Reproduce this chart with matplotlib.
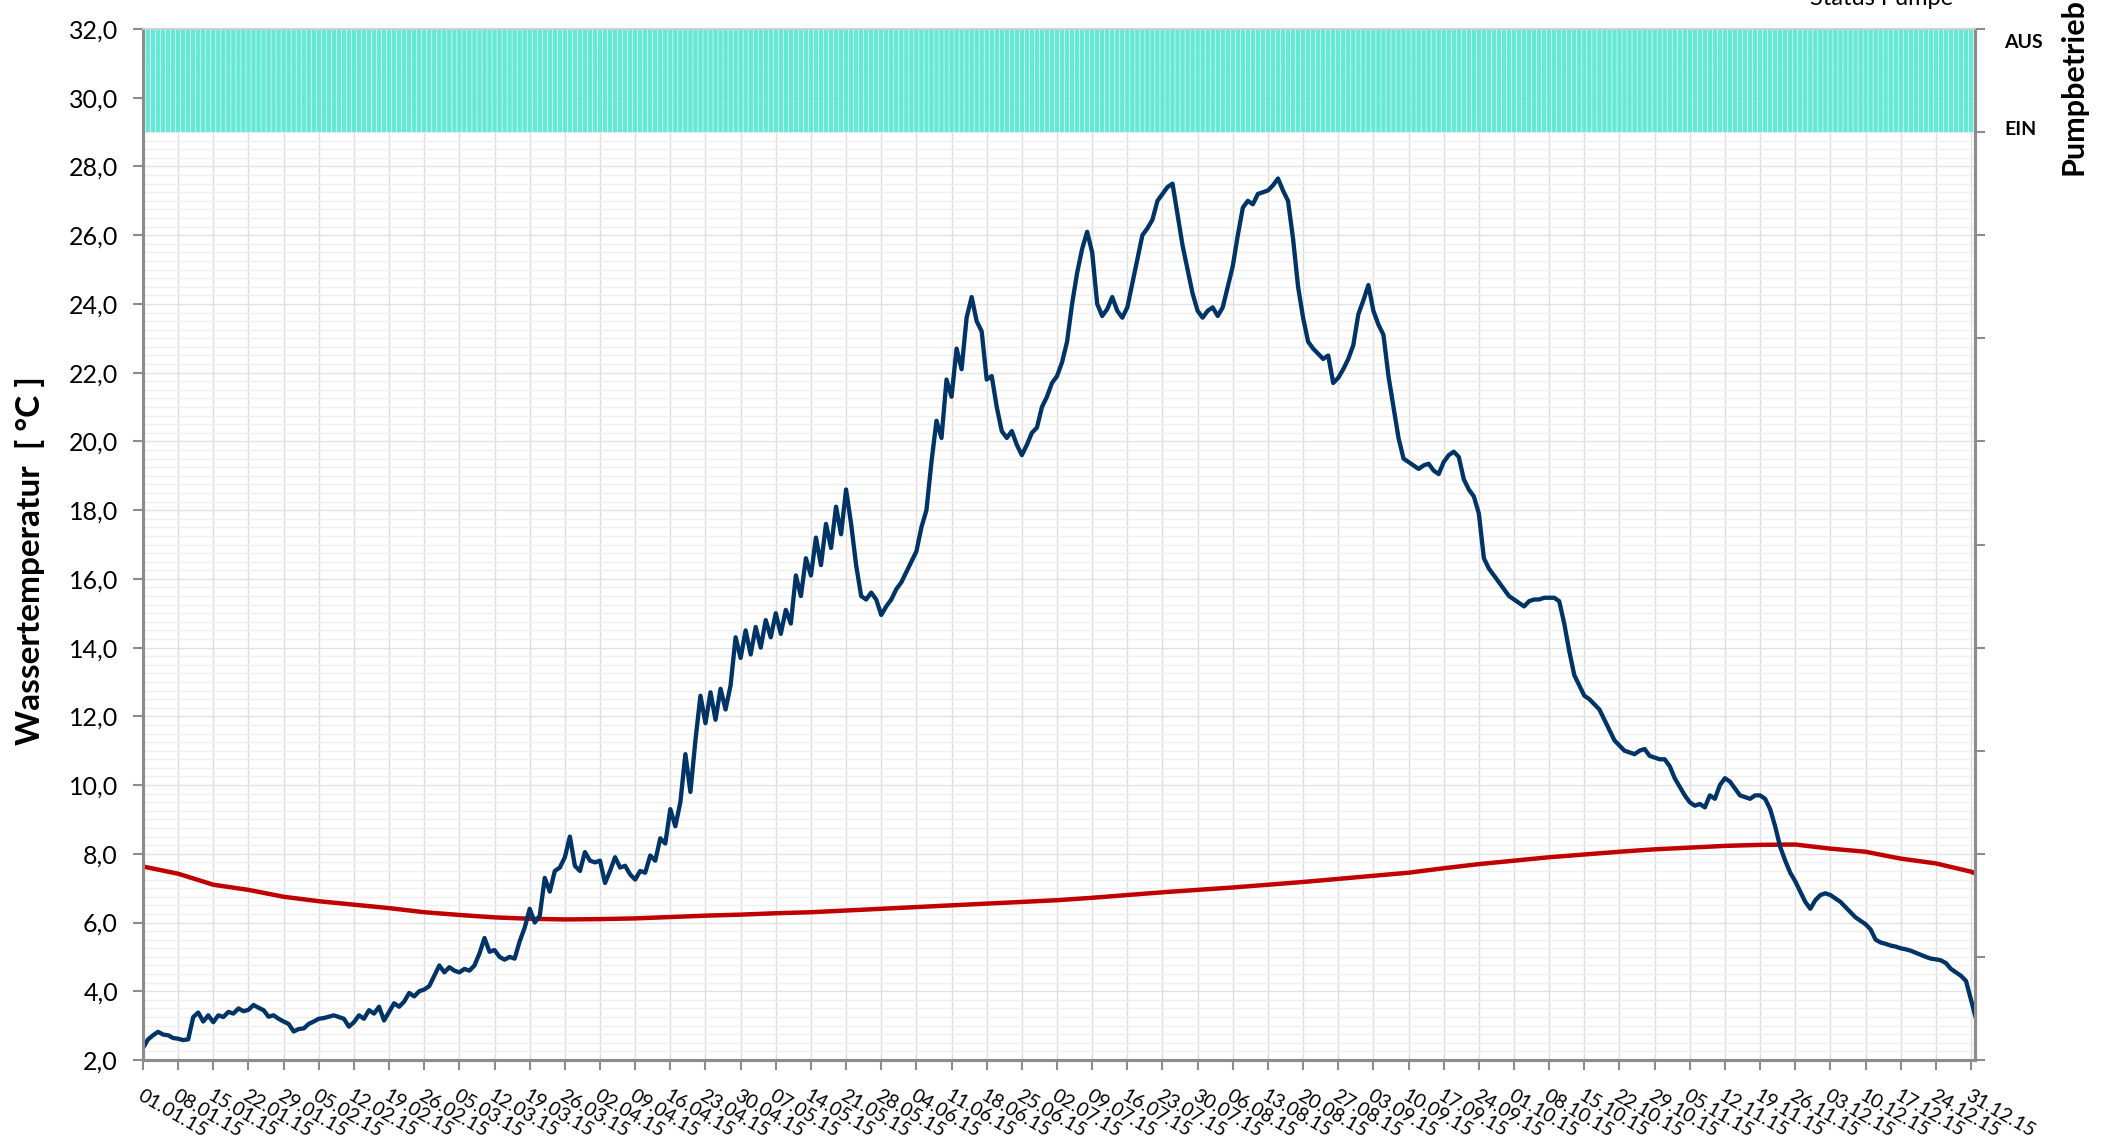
import matplotlib
matplotlib.use('Agg')
import matplotlib.pyplot as plt
import matplotlib.transforms as mtransforms
from matplotlib.ticker import MultipleLocator
import pandas as pd

plt.rcParams['font.family'] = ['Lato', 'DejaVu Sans']

# ---- data -------------------------------------------------------------
# daily water temperature (blue), 01.01.15 ... 01.01.16
blue_temp = [
    2.35, 2.6, 2.72, 2.82, 2.74, 2.72, 2.64,
    2.62, 2.58, 2.6, 3.25, 3.38, 3.12, 3.3,
    3.1, 3.3, 3.25, 3.4, 3.35, 3.5, 3.42,
    3.46, 3.6, 3.52, 3.45, 3.26, 3.3, 3.2,
    3.12, 3.05, 2.83, 2.9, 2.92, 3.05, 3.12,
    3.2, 3.22, 3.26, 3.3, 3.25, 3.2, 2.97,
    3.1, 3.3, 3.2, 3.45, 3.35, 3.55, 3.15,
    3.4, 3.65, 3.55, 3.7, 3.95, 3.85, 4.0,
    4.05, 4.15, 4.45, 4.75, 4.55, 4.7, 4.6,
    4.55, 4.65, 4.6, 4.75, 5.1, 5.55, 5.15,
    5.2, 5.0, 4.92, 5.0, 4.95, 5.45, 5.85,
    6.4, 6.0, 6.2, 7.3, 6.9, 7.5, 7.6,
    7.9, 8.5, 7.65, 7.5, 8.05, 7.8, 7.75,
    7.8, 7.15, 7.5, 7.9, 7.6, 7.65, 7.4,
    7.25, 7.5, 7.45, 7.95, 7.8, 8.45, 8.3,
    9.3, 8.8, 9.5, 10.9, 9.8, 11.3, 12.6,
    11.8, 12.7, 11.9, 12.8, 12.2, 12.9, 14.3,
    13.7, 14.5, 13.8, 14.6, 14.0, 14.8, 14.3,
    15.0, 14.4, 15.1, 14.7, 16.1, 15.5, 16.6,
    16.1, 17.2, 16.4, 17.6, 16.9, 18.1, 17.3,
    18.6, 17.6, 16.4, 15.5, 15.4, 15.6, 15.4,
    14.95, 15.2, 15.4, 15.7, 15.9, 16.2, 16.5,
    16.8, 17.5, 18.0, 19.4, 20.6, 20.1, 21.8,
    21.3, 22.7, 22.1, 23.6, 24.2, 23.5, 23.2,
    21.8, 21.9, 21.0, 20.3, 20.1, 20.3, 19.9,
    19.6, 19.9, 20.25, 20.4, 21.0, 21.3, 21.7,
    21.9, 22.3, 22.9, 24.0, 24.9, 25.6, 26.1,
    25.5, 24.0, 23.65, 23.85, 24.2, 23.8, 23.6,
    23.9, 24.6, 25.3, 26.0, 26.2, 26.45, 27.0,
    27.2, 27.4, 27.5, 26.6, 25.7, 25.0, 24.3,
    23.8, 23.6, 23.8, 23.9, 23.65, 23.9, 24.5,
    25.1, 26.0, 26.8, 27.0, 26.9, 27.2, 27.25,
    27.3, 27.45, 27.65, 27.3, 27.0, 25.9, 24.5,
    23.6, 22.9, 22.7, 22.55, 22.4, 22.5, 21.7,
    21.85, 22.1, 22.4, 22.8, 23.7, 24.1, 24.55,
    23.8, 23.4, 23.1, 21.9, 21.0, 20.1, 19.5,
    19.4, 19.3, 19.2, 19.3, 19.35, 19.15, 19.05,
    19.4, 19.6, 19.7, 19.55, 18.9, 18.6, 18.4,
    17.9, 16.6, 16.3, 16.1, 15.9, 15.7, 15.5,
    15.4, 15.3, 15.2, 15.35, 15.4, 15.4, 15.45,
    15.45, 15.45, 15.35, 14.7, 13.9, 13.2, 12.9,
    12.6, 12.5, 12.35, 12.2, 11.9, 11.6, 11.3,
    11.15, 11.0, 10.95, 10.9, 11.0, 11.05, 10.85,
    10.8, 10.75, 10.75, 10.55, 10.2, 9.95, 9.7,
    9.5, 9.4, 9.45, 9.35, 9.7, 9.6, 10.0,
    10.2, 10.1, 9.9, 9.7, 9.65, 9.6, 9.7,
    9.7, 9.6, 9.3, 8.8, 8.2, 7.8, 7.45,
    7.2, 6.9, 6.6, 6.4, 6.65, 6.8, 6.85,
    6.8, 6.7, 6.6, 6.45, 6.3, 6.15, 6.05,
    5.95, 5.8, 5.5, 5.42, 5.38, 5.33, 5.3,
    5.25, 5.22, 5.18, 5.12, 5.06, 5.0, 4.95,
    4.93, 4.9, 4.82, 4.65, 4.55, 4.45, 4.3,
    3.75, 3.2,
]

# weekly values of the red series, 01.01.15 ... 31.12.15, plus 01.01.16
red_temp = [
    7.63, 7.42, 7.1, 6.95, 6.75, 6.62, 6.52, 6.42, 6.3, 6.22,
    6.15, 6.11, 6.09, 6.1, 6.12, 6.16, 6.2, 6.23, 6.27, 6.3,
    6.35, 6.4, 6.45, 6.5, 6.55, 6.6, 6.65, 6.72, 6.8, 6.88,
    6.95, 7.02, 7.1, 7.18, 7.27, 7.36, 7.45, 7.58, 7.7, 7.8,
    7.9, 7.98, 8.06, 8.13, 8.18, 8.23, 8.26, 8.27, 8.15, 8.06,
    7.86, 7.72, 7.48, 7.42,
]

# pump status per day (1 = band from EIN to AUS)
status = [1] * 365

temp_ticks = [2, 4, 6, 8, 10, 12, 14, 16, 18, 20, 22, 24, 26, 28, 30, 32]
temp_labels = ['2,0', '4,0', '6,0', '8,0', '10,0', '12,0', '14,0', '16,0',
               '18,0', '20,0', '22,0', '24,0', '26,0', '28,0', '30,0', '32,0']
status_ticks = [-9, -8, -7, -6, -5, -4, -3, -2, -1, 0, 1]
status_labels = ['', '', '', '', '', '', '', '', '', 'EIN', 'AUS']

# ---- figure -----------------------------------------------------------
W, H = 2109, 1136
fig = plt.figure(figsize=(W / 100, H / 100), dpi=100)
ax = fig.add_axes([143 / W, 1 - 1060 / H, (1975 - 143) / W, (1060 - 29) / H])

blue_dates = pd.date_range('2015-01-01', periods=len(blue_temp), freq='D')
red_dates = list(pd.date_range('2015-01-01', periods=53, freq='7D')) + [pd.Timestamp('2016-01-01')]
status_dates = pd.date_range('2015-01-01', periods=len(status), freq='D')
tick_dates = pd.date_range('2015-01-01', '2015-12-31', freq='7D')
tick_labels = [d.strftime('%d.%m.%y') for d in tick_dates]

ax.plot(red_dates, red_temp, color='#C00000', lw=3.2, zorder=2, solid_joinstyle='round')
ax.plot(blue_dates, blue_temp, color='#003366', lw=3.1, zorder=3, solid_joinstyle='round')

ax.set_xlim(pd.Timestamp('2015-01-01'), pd.Timestamp('2015-12-31 19:00'))
ax.set_ylim(2, 32)
ax.set_yticks(temp_ticks)
ax.set_yticklabels(temp_labels)
ax.yaxis.set_minor_locator(MultipleLocator(0.25))
ax.set_xticks(tick_dates)
ax.set_xticklabels(tick_labels, rotation=-30, ha='left', va='top',
                   rotation_mode='anchor', fontsize=14)

ax.set_axisbelow(True)
ax.grid(True, axis='x', which='major', color='#dcdcdc', lw=1.0)
ax.grid(True, axis='y', which='major', color='#e2e2e2', lw=1.0)
ax.grid(True, axis='y', which='minor', color='#efefef', lw=1.0)

spine_col = '#8c8c8c'
ax.tick_params(axis='y', which='major', length=7, width=1.5, color=spine_col,
               pad=11, labelsize=18)
ax.tick_params(axis='y', which='minor', length=0)
ax.tick_params(axis='x', which='major', length=7, width=1.5, color=spine_col, pad=12)

for side in ['left', 'bottom', 'right']:
    ax.spines[side].set_color(spine_col)
    ax.spines[side].set_linewidth(2.2)
ax.spines['top'].set_color('#d0d0d0')
ax.spines['top'].set_linewidth(1.2)

# secondary axis: pump status band
ax2 = ax.twinx()
ax2.bar(status_dates, status, width=0.88, bottom=0, color='#66E8D6',
        linewidth=0, align='center', zorder=1, snap=False)
ax2.set_ylim(-9, 1)
ax2.set_yticks(status_ticks)
ax2.set_yticklabels(status_labels, fontsize=14, fontweight='bold')
ax2.tick_params(axis='y', length=7, width=1.5, color=spine_col, pad=14)
for side in ['left', 'bottom', 'right']:
    ax2.spines[side].set_color(spine_col)
    ax2.spines[side].set_linewidth(2.2)
ax2.spines['top'].set_color('#d0d0d0')
ax2.spines['top'].set_linewidth(1.2)
ax2.set_xlim(ax.get_xlim())

lbls = ax2.get_yticklabels()
lbls[-1].set_transform(lbls[-1].get_transform() +
                       mtransforms.ScaledTranslation(0, -12 / 100, fig.dpi_scale_trans))
lbls[-2].set_transform(lbls[-2].get_transform() +
                       mtransforms.ScaledTranslation(0, 4 / 100, fig.dpi_scale_trans))

# ---- texts ------------------------------------------------------------
fig.text(30 / W, 1 - 561 / H, 'Wassertemperatur  [ °C ]', rotation=90,
         ha='center', va='center', fontsize=24, fontweight='bold')
fig.text(2074 / W, 1 - 175 / H, 'Pumpbetrieb', rotation=90,
         ha='center', va='bottom', fontsize=22, fontweight='bold')
fig.text(1882 / W, 1 - 5 / H, 'Status Pumpe', ha='center', va='baseline',
         fontsize=17)

fig.savefig('out.png', dpi=100)
